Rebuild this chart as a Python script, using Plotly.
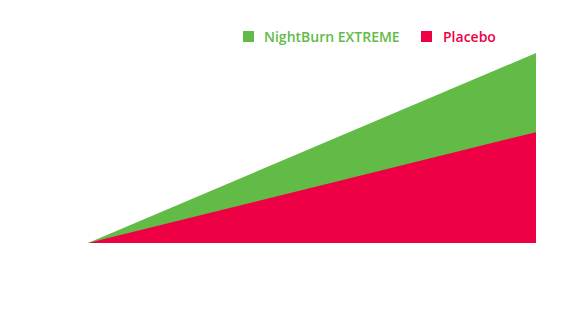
import plotly.graph_objects as go

x_vals = [0, 1]
nightburn = [0, 12]
placebo = [0, 7]
names = ["NightBurn EXTREME", "Placebo"]
colors = ["#62bb47", "#ee0044"]

W, H = 572, 318
L, R, T, B = 88, 36, 53, 75
PW, PH = W - L - R, H - T - B

def px(xp):
    return (xp - L) / PW

def py(yp):
    return (H - B - yp) / PH

fig = go.Figure()
for name, vals, col in zip(names, [nightburn, placebo], colors):
    fig.add_trace(go.Scatter(
        x=x_vals, y=vals, mode="lines", fill="tozeroy", name=name,
        line=dict(width=0, color=col), fillcolor=col,
        hoverinfo="skip", showlegend=False))

# legend drawn as shapes + text
legend_sq_x = [243, 421]
legend_txt_x = [263, 442]
for name, col, sx, tx in zip(names, colors, legend_sq_x, legend_txt_x):
    fig.add_shape(type="rect", xref="paper", yref="paper",
                  x0=px(sx), x1=px(sx + 11), y0=py(42), y1=py(31),
                  fillcolor=col, line=dict(width=0))
    fig.add_annotation(text=name, xref="paper", yref="paper",
                       x=px(tx), y=py(36.5), xanchor="left", yanchor="middle",
                       showarrow=False, xshift=-1,
                       font=dict(family="Open Sans", size=14, weight=600, color=col))

fig.update_layout(
    width=W, height=H,
    margin=dict(l=L, r=R, t=T, b=B, autoexpand=False),
    paper_bgcolor="white", plot_bgcolor="white",
    showlegend=False,
    xaxis=dict(visible=False, range=[0, 1]),
    yaxis=dict(visible=False, range=[0, 12]),
)
fig.write_html("out.html")
